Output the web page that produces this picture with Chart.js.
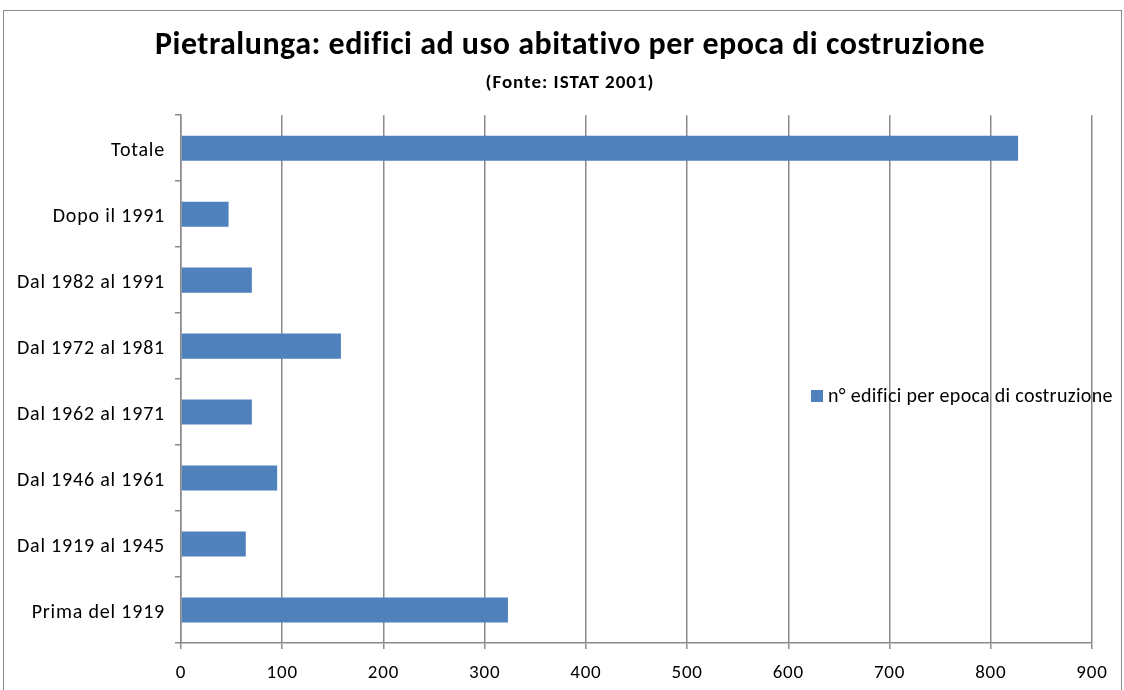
<!DOCTYPE html>
<html>
<head>
<meta charset="utf-8">
<script src="https://cdn.jsdelivr.net/npm/chart.js@4"></script>
<style>
    html, body { margin: 0; padding: 0; background: #fff; }
    #wrap { position: relative; width: 1124px; height: 690px; overflow: hidden; }
    #frame { position: absolute; left: 3px; top: 10px; width: 1117px; height: 700px; border: 1px solid #8a8a8a; }
    #chart { position: absolute; left: 0; top: 0; }
</style>
</head>
<body>
<div id="wrap">
    <div id="frame"></div>
    <canvas id="chart" width="1124" height="690"></canvas>
</div>
<script>
// Pietralunga - edifici per epoca di costruzione

const categories = [
    'Totale',
    'Dopo il 1991',
    'Dal 1982 al 1991',
    'Dal 1972 al 1981',
    'Dal 1962 al 1971',
    'Dal 1946 al 1961',
    'Dal 1919 al 1945',
    'Prima del 1919'
];
const edifici = [827, 47, 70, 158, 70, 95, 64, 323];
const xTicks = [0, 100, 200, 300, 400, 500, 600, 700, 800, 900];
const seriesName = 'n° edifici per epoca di costruzione';
const titleText = 'Pietralunga: edifici ad uso abitativo per epoca di costruzione';
const subtitleText = '(Fonte: ISTAT 2001)';

const FONT = "Carlito, 'Liberation Sans Narrow', 'Liberation Sans', sans-serif";
const BLUE = '#4f81bd';
const GRID = '#8a8a8a';

// Excel text is spaced a bit wider than Carlito, so add some letter spacing per box
const spacingPlugin = {
    id: 'spacing',
    beforeLayout(chart) {
        chart.boxes.forEach(box => {
            if (box._spaced) return;
            let sp = '0.8px';
            if (box === chart.titleBlock) sp = '0.5px';
            else if (!box.axis && box.options && box.options.text === subtitleText) sp = '1px';
            const orig = box.draw;
            box.draw = function (area) {
                const c = chart.ctx;
                const prev = c.letterSpacing;
                c.letterSpacing = sp;
                orig.call(this, area);
                c.letterSpacing = prev;
            };
            box._spaced = true;
        });
    }
};

// legend drawn inside the plot, like the original
const legendPlugin = {
    id: 'insideLegend',
    afterDraw(chart) {
        const ctx = chart.ctx;
        const y = 396;
        ctx.save();
        ctx.fillStyle = BLUE;
        ctx.fillRect(811, y - 6, 12, 12);
        ctx.fillStyle = '#000';
        ctx.font = '20px ' + FONT;
        ctx.letterSpacing = '0.3px';
        ctx.textBaseline = 'middle';
        ctx.fillText(seriesName, 828, y + 1);
        ctx.restore();
    }
};

const ctx = document.getElementById('chart').getContext('2d');
new Chart(ctx, {
    type: 'bar',
    data: {
        labels: categories,
        datasets: [{
            label: seriesName,
            data: edifici,
            backgroundColor: BLUE,
            borderWidth: 0,
            categoryPercentage: 0.38,
            barPercentage: 1
        }]
    },
    options: {
        indexAxis: 'y',
        responsive: false,
        animation: false,
        layout: { padding: { left: 48, right: 32, top: 0, bottom: 0 } },
        plugins: {
            legend: { display: false },
            tooltip: { enabled: false },
            title: {
                display: true,
                text: titleText,
                color: '#000',
                font: { family: FONT, size: 32, weight: 'bold' },
                padding: { top: 27, bottom: 6 }
            },
            subtitle: {
                display: true,
                text: subtitleText,
                color: '#000',
                font: { family: FONT, size: 19, weight: 'bold' },
                padding: { top: 0, bottom: 21 }
            }
        },
        scales: {
            x: {
                min: 0,
                max: 900,
                afterBuildTicks(scale) {
                    scale.ticks = xTicks.map(v => ({ value: v }));
                },
                afterFit(scale) { scale.height = 47; },
                grid: {
                    color: GRID,
                    lineWidth: 1.5,
                    tickLength: 6,
                    drawOnChartArea: true
                },
                border: { color: GRID, width: 1.5 },
                ticks: {
                    color: '#000',
                    font: { family: FONT, size: 19 },
                    padding: 13
                }
            },
            y: {
                afterFit(scale) {
                    scale.width = 133;
                    // labels run into the left padding, so don't clip them to the axis box
                    scale._computeLabelArea = () => undefined;
                },
                grid: {
                    offset: true,
                    drawOnChartArea: false,
                    color: GRID,
                    lineWidth: 1.5,
                    tickLength: 6
                },
                border: { color: GRID, width: 1.5 },
                ticks: {
                    color: '#000',
                    font: { family: FONT, size: 20 },
                    padding: 10,
                    labelOffset: 3
                }
            }
        }
    },
    plugins: [spacingPlugin, legendPlugin]
});
</script>
</body>
</html>
